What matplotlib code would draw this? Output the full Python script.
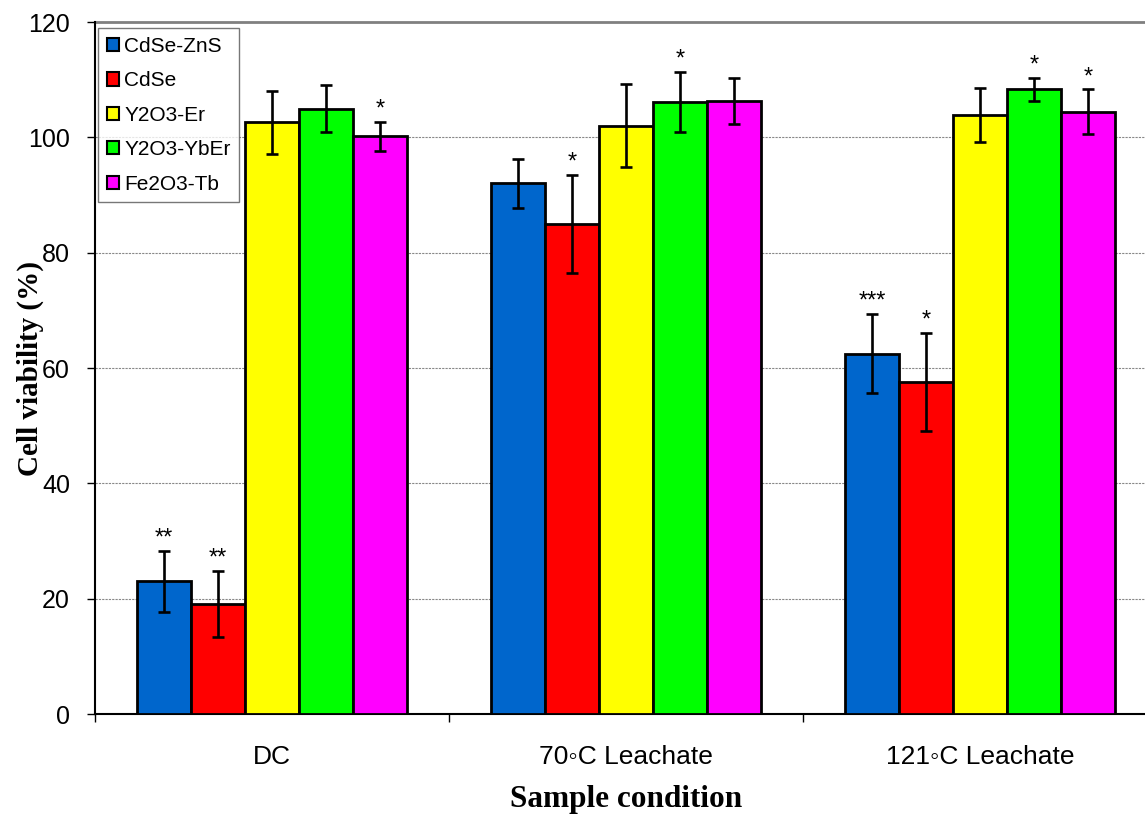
import matplotlib
matplotlib.use("Agg")
import matplotlib.pyplot as plt
import numpy as np

plt.rcParams['font.family'] = ['Liberation Sans', 'DejaVu Sans']

# Data
conditions = ["DC", "70\u25e6C Leachate", "121\u25e6C Leachate"]
materials = ["CdSe-ZnS", "CdSe", "Y2O3-Er", "Y2O3-YbEr", "Fe2O3-Tb"]
colors = ["#0066CC", "#FF0000", "#FFFF00", "#00FF00", "#FF00FF"]

viability = {
    "CdSe-ZnS":  [23.0, 92.0, 62.5],
    "CdSe":      [19.1, 85.0, 57.5],
    "Y2O3-Er":   [102.6, 102.0, 103.9],
    "Y2O3-YbEr": [105.0, 106.2, 108.3],
    "Fe2O3-Tb":  [100.2, 106.3, 104.4],
}
errors = {
    "CdSe-ZnS":  [5.3, 4.2, 6.9],
    "CdSe":      [5.7, 8.5, 8.5],
    "Y2O3-Er":   [5.5, 7.2, 4.7],
    "Y2O3-YbEr": [4.0, 5.2, 2.0],
    "Fe2O3-Tb":  [2.5, 4.0, 3.9],
}
significance = {
    "CdSe-ZnS":  ["**", "", "***"],
    "CdSe":      ["**", "*", "*"],
    "Y2O3-Er":   ["", "", ""],
    "Y2O3-YbEr": ["", "*", "*"],
    "Fe2O3-Tb":  ["*", "", "*"],
}

fig = plt.figure(figsize=(11.45, 8.14), dpi=100)
ax = fig.add_axes([95 / 1145, 1 - 714 / 814, (1157 - 95) / 1145, (714 - 22) / 814])

x = np.arange(len(conditions))
width = 0.1525

for i, (mat, col) in enumerate(zip(materials, colors)):
    pos = x + (i - 2) * width
    vals = viability[mat]
    errs = errors[mat]
    ax.bar(pos, vals, width, color=col, edgecolor="black", linewidth=2.0,
           label=mat, zorder=3)
    ax.errorbar(pos, vals, yerr=errs, fmt="none", ecolor="black",
                elinewidth=1.9, capsize=4.3, capthick=1.9, zorder=4)
    for p, v, e, s in zip(pos, vals, errs, significance[mat]):
        if s:
            ax.annotate(s, (p, v + e), xytext=(0, 1), textcoords="offset points",
                        ha="center", va="bottom", fontsize=17, zorder=5)

ax.set_xlim(-0.5, 2.5)
ax.set_ylim(0, 120)
ax.set_yticks(np.arange(0, 121, 20))
ax.tick_params(axis="y", labelsize=18, direction="out", length=6, width=1, pad=12)

ax.set_xticks(x)
ax.set_xticklabels(conditions)
ax.tick_params(axis="x", which="major", length=0, labelsize=19, pad=22)
ax.set_xticks([-0.5, 0.5, 1.5], minor=True)
ax.tick_params(axis="x", which="minor", length=6, width=1, direction="out")

ax.yaxis.grid(True, linestyle=(0, (2, 1)), color="#888888", linewidth=0.8, zorder=0)
ax.set_axisbelow(True)

for side in ["top", "right"]:
    ax.spines[side].set_visible(False)
ax.spines["left"].set_linewidth(1.5)
ax.spines["bottom"].set_linewidth(1.5)
ax.axhline(120, color="#808080", linewidth=2, zorder=1, clip_on=False)

ax.set_ylabel("Cell viability (%)", family="Liberation Serif", fontweight="bold",
              fontsize=21)
ax.yaxis.set_label_coords(-0.048, 0.5)
ax.set_xlabel("Sample condition", family="Liberation Serif", fontweight="bold",
              fontsize=22.5)
ax.xaxis.set_label_coords(0.5, -0.102)

leg = ax.legend(loc="upper left", bbox_to_anchor=(0.003, 0.991), fontsize=15,
                frameon=True, fancybox=False, edgecolor="#555555",
                handlelength=0.6, handleheight=0.6, handletextpad=0.22,
                labelspacing=0.74, borderpad=0.42, borderaxespad=0)
leg.get_frame().set_linewidth(1.0)
for h in leg.legend_handles:
    h.set_linewidth(1.5)

fig.savefig("out.png", dpi=100)
